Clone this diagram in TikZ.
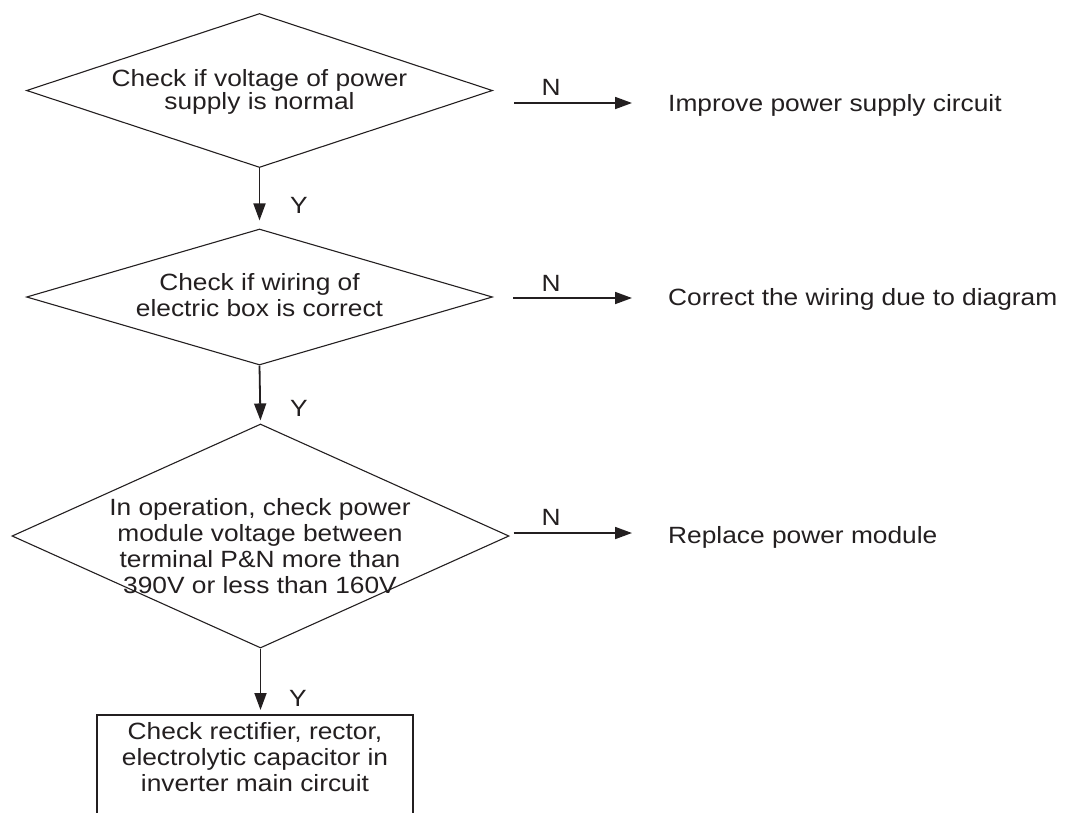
\documentclass[tikz,border=0pt]{standalone}
\usepackage{fontspec}
\setmainfont{Liberation Sans}[FakeStretch=1.12]
\usetikzlibrary{shapes.geometric,arrows.meta}
\definecolor{ink}{HTML}{231F20}
\begin{document}
\begin{tikzpicture}[x=1pt,y=-1pt,
  dia/.style={draw=ink, line width=1.1pt, shape=diamond, inner sep=0pt},
  txt/.style={text=ink, font=\fontsize{23.5}{26}\selectfont, align=center, inner sep=0pt},
  lbl/.style={text=ink, font=\fontsize{23.5}{26}\selectfont, inner sep=0pt},
  arr/.style={draw=ink, line width=1.8pt, -{Triangle[length=17pt,width=12pt]}},
  boxst/.style={draw=ink, line width=1.5pt, inner sep=0pt, anchor=north},
]
\path[use as bounding box] (0,0) rectangle (1065,812);
\clip (0,0) rectangle (1065,812);

% decisions
\node[dia, minimum width=466pt, minimum height=154pt] (d1) at (259.5,90.5) {};
\node[dia, minimum width=466pt, minimum height=136pt] (d2) at (259.5,297) {};
\node[dia, minimum width=497pt, minimum height=224pt] (d3) at (260.5,536) {};

\node[txt, font=\fontsize{23.5}{23}\selectfont] (t1) at (259.5,92) {Check if voltage of power\\supply is normal};
\node[txt] (t2) at (259.5,295) {Check if wiring of\\electric box is correct};
\node[txt] (t3) at (260,546) {In operation, check power\\module voltage between\\terminal P\&N more than\\390V or less than 160V};

% final box
\node[boxst, minimum width=316pt, minimum height=130pt] (b) at (255,714) {};
\node[txt] (bt) at (255,757) {Check rectifier, rector,\\electrolytic capacitor in\\inverter main circuit};

% right hand results
\node[lbl, anchor=base west] (r1) at (668,111) {Improve power supply circuit};
\node[lbl, anchor=base west] (r2) at (668,305) {Correct the wiring due to diagram};
\node[lbl, anchor=base west] (r3) at (668,543) {Replace power module};

\coordinate (e1) at (632,103);
\coordinate (e2) at (632,298);
\coordinate (e3) at (632,533);

% N connectors
\draw[arr, shorten <=21pt] (e1 -| d1.east) -- (e1);
\draw[arr, shorten <=20pt] (e2 -| d2.east) -- (e2);
\draw[arr, shorten <=4pt] (e3 -| d3.east) -- (e3);
\node[lbl, anchor=base] (n1) at (551,95) {N};
\node[lbl, anchor=base] (n2) at (551,291) {N};
\node[lbl, anchor=base] (n3) at (551,525) {N};

% Y connectors
\draw[arr, shorten >=8pt] (d1.south) -- (d2.north);
\draw[arr, shorten >=3pt] (d2.south) -- (d3.north);
\draw[arr, shorten >=4pt] (d3.south) -- (d3.south |- b.north);
\node[lbl, anchor=base] (y1) at (299,213) {Y};
\node[lbl, anchor=base] (y2) at (299,416) {Y};
\node[lbl, anchor=base] (y3) at (298,706) {Y};
\end{tikzpicture}
\end{document}
